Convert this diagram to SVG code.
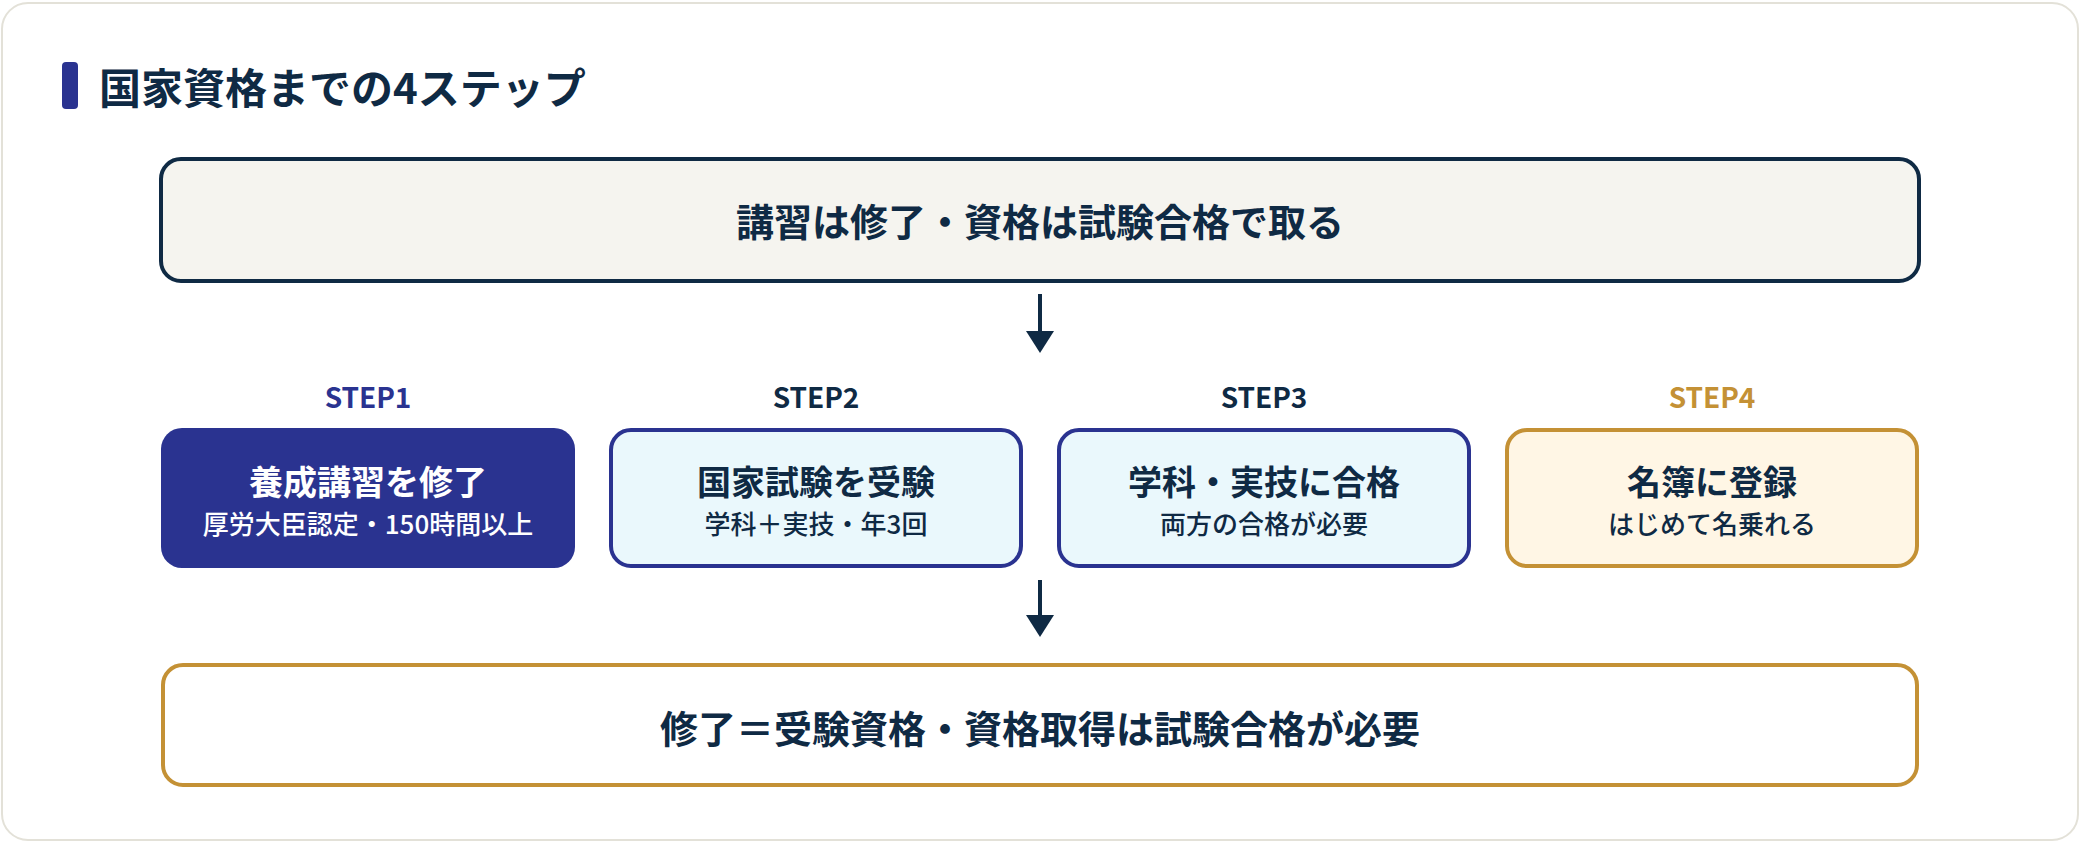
<svg xmlns="http://www.w3.org/2000/svg" width="2080" height="842" viewBox="0 0 2080 842">
<style>
text{font-family:"Noto Sans CJK JP","Noto Sans",sans-serif;text-anchor:middle}
.t{font-weight:700;fill:#0f2a44}
.big{font-size:38px}
.lbl{font-size:28px;font-weight:700}
.h{font-size:34px;font-weight:700}
.s{font-size:26px;font-weight:500}
.conn line{stroke:#0f2a44;stroke-width:4}
</style>
<defs>
<marker id="ah" markerUnits="userSpaceOnUse" markerWidth="22" markerHeight="28" refX="1" refY="14" orient="auto" viewBox="0 0 22 28">
<path d="M0,0 L22,14 L0,28 Z" fill="#0f2a44"/>
</marker>
</defs>
<rect x="0" y="0" width="2080" height="842" fill="#ffffff"/>
<rect x="2" y="3" width="2076" height="837" rx="26" fill="#ffffff" stroke="#e3e1d8" stroke-width="2"/>
<g id="title">
<rect x="62" y="62" width="16" height="47" rx="4" fill="#2a3390"/>
<text x="99" y="104" class="t" style="font-size:42px;text-anchor:start">国家資格までの4ステップ</text>
</g>
<g id="top">
<rect x="161" y="159" width="1758" height="122" rx="20" fill="#f5f4ef" stroke="#0f2a44" stroke-width="4"/>
<text x="1040" y="236" class="t big">講習は修了・資格は試験合格で取る</text>
</g>
<g class="conn" id="connectors">
<line x1="1040" y1="294" x2="1040" y2="332" marker-end="url(#ah)"/>
<line x1="1040" y1="580" x2="1040" y2="616" marker-end="url(#ah)"/>
</g>
<g id="step1">
<text x="368" y="408" class="lbl" fill="#2a3390">STEP1</text>
<rect x="161" y="428" width="414" height="140" rx="21" fill="#2a3390"/>
<text x="368" y="495" class="h" fill="#ffffff">養成講習を修了</text>
<text x="368" y="534" class="s" fill="#ffffff">厚労大臣認定・150時間以上</text>
</g>
<g id="step2">
<text x="816" y="408" class="lbl" fill="#0f2a44">STEP2</text>
<rect x="611" y="430" width="410" height="136" rx="20" fill="#eaf8fc" stroke="#2a3390" stroke-width="4"/>
<text x="816" y="495" class="h" fill="#0f2a44">国家試験を受験</text>
<text x="816" y="534" class="s" fill="#0f2a44">学科＋実技・年3回</text>
</g>
<g id="step3">
<text x="1264" y="408" class="lbl" fill="#0f2a44">STEP3</text>
<rect x="1059" y="430" width="410" height="136" rx="20" fill="#eaf8fc" stroke="#2a3390" stroke-width="4"/>
<text x="1264" y="495" class="h" fill="#0f2a44">学科・実技に合格</text>
<text x="1264" y="534" class="s" fill="#0f2a44">両方の合格が必要</text>
</g>
<g id="step4">
<text x="1712" y="408" class="lbl" fill="#c49135">STEP4</text>
<rect x="1507" y="430" width="410" height="136" rx="20" fill="#fff6e5" stroke="#c49135" stroke-width="4"/>
<text x="1712" y="495" class="h" fill="#0f2a44">名簿に登録</text>
<text x="1712" y="534" class="s" fill="#0f2a44">はじめて名乗れる</text>
</g>
<g id="bottom">
<rect x="163" y="665" width="1754" height="120" rx="20" fill="#ffffff" stroke="#c49135" stroke-width="4"/>
<text x="1040" y="743" class="t big">修了＝受験資格・資格取得は試験合格が必要</text>
</g>
</svg>
